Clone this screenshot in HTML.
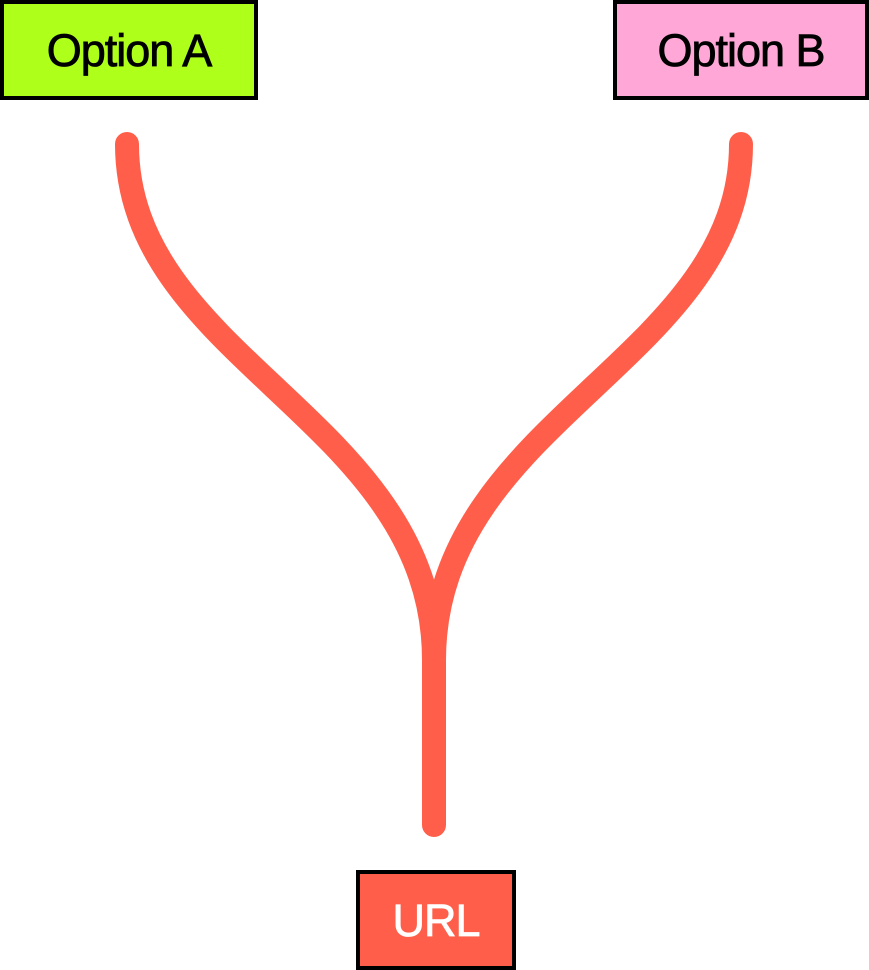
<!DOCTYPE html>
<html><head><style>
html,body{margin:0;padding:0;background:#fff;}
body{width:869px;height:970px;position:relative;overflow:hidden;font-family:"Liberation Sans",sans-serif;}
.box{position:absolute;box-sizing:border-box;border:4px solid #000;display:flex;align-items:center;justify-content:center;font-size:45px;letter-spacing:-1px;padding-top:2px;-webkit-text-stroke:0.8px currentColor;}
</style></head><body>
<svg width="869" height="970" style="position:absolute;left:0;top:0">
<path d="M127,144 C127,360 434,420 434,660 L434,825" fill="none" stroke="#FF5F4A" stroke-width="24" stroke-linecap="round"/>
<path d="M741,144 C741,360 434,420 434,660" fill="none" stroke="#FF5F4A" stroke-width="24" stroke-linecap="round"/>
</svg>
<div class="box" style="left:0;top:0;width:258px;height:100px;background:#AEFF1A;color:#000;">Option A</div>
<div class="box" style="left:613px;top:0;width:256px;height:100px;background:#FFA8D8;color:#000;">Option B</div>
<div class="box" style="left:356px;top:870px;width:160px;height:100px;background:#FF5F4A;color:#fff;">URL</div>
</body></html>
